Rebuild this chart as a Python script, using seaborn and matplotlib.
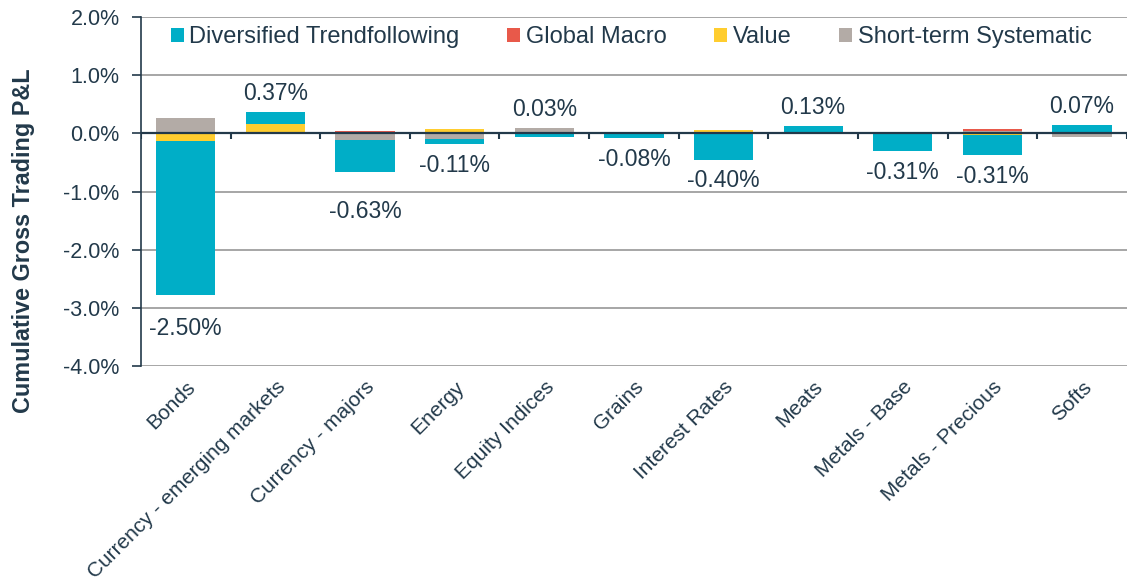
import numpy as np
import pandas as pd
import seaborn as sns
import matplotlib.pyplot as plt
from matplotlib.patches import Patch

# values, in % P&L
categories = ["Bonds", "Currency - emerging markets", "Currency - majors", "Energy",
              "Equity Indices", "Grains", "Interest Rates", "Meats",
              "Metals - Base", "Metals - Precious", "Softs"]
trend = [-2.63, 0.21, -0.55, -0.10, -0.05, -0.08, -0.45, 0.13, -0.31, -0.35, 0.14]
macro = [0.01, 0.00, 0.04, 0.00, 0.00, 0.00, 0.00, 0.00, 0.00, 0.03, 0.00]
value = [-0.14, 0.16, 0.00, 0.08, -0.01, 0.00, 0.05, 0.00, 0.00, -0.03, 0.00]
short = [0.26, 0.00, -0.12, -0.09, 0.09, 0.00, 0.00, 0.00, 0.00, 0.04, -0.07]
series_names = ["Diversified Trendfollowing", "Global Macro", "Value", "Short-term Systematic"]
yticks = [-4, -3, -2, -1, 0, 1, 2]

TEXT = "#22394A"
colors = {"Diversified Trendfollowing": "#00AEC7", "Global Macro": "#E8594A",
          "Value": "#FFCD2F", "Short-term Systematic": "#B3ABA6"}

df = pd.DataFrame({"category": categories,
                   "Diversified Trendfollowing": trend, "Global Macro": macro,
                   "Value": value, "Short-term Systematic": short})

sns.set_theme(style="white")
plt.rcParams["font.family"] = ["Liberation Sans", "DejaVu Sans"]

fig, ax = plt.subplots(figsize=(11.28, 5.84), dpi=100)
fig.subplots_adjust(left=0.125, right=0.999, bottom=0.373, top=0.971)

# stacking order from the zero line outwards
stack = ["Short-term Systematic", "Value", "Global Macro", "Diversified Trendfollowing"]
vals = df[stack].to_numpy()
pos_cum = np.cumsum(np.clip(vals, 0, None), axis=1)
neg_cum = np.cumsum(np.clip(vals, None, 0), axis=1)

# draw outermost cumulative first, then overdraw the inner layers
for i in range(len(stack) - 1, -1, -1):
    for cum in (pos_cum, neg_cum):
        sns.barplot(x=df["category"], y=cum[:, i], color=colors[stack[i]],
                    width=0.66, saturation=1, linewidth=0, ax=ax, zorder=2)

# total labels (a couple were nudged further down in the original)
label_nudge = {"Bonds": -9, "Currency - majors": -13}
totals = df[series_names].sum(axis=1).round(2)
for i, t in enumerate(totals):
    if t >= 0:
        ax.annotate(f"{t:.2f}%", (i, pos_cum[i, -1]), xytext=(0, 5),
                    textcoords="offset points", ha="center", va="bottom",
                    fontsize=16.5, color=TEXT)
    else:
        dy = -7 + label_nudge.get(categories[i], 0)
        ax.annotate(f"{t:.2f}%", (i, neg_cum[i, -1]), xytext=(0, dy),
                    textcoords="offset points", ha="center", va="top",
                    fontsize=16.5, color=TEXT)

ax.set_xlim(-0.5, len(categories) - 0.5)
ax.set_ylim(-4, 2)
ax.set_yticks(yticks)
ax.set_yticklabels([f"{v:.1f}%" for v in yticks], fontsize=15.5, color=TEXT)
ax.yaxis.grid(True, color="#A6A6A6", linewidth=1.4, zorder=0)
ax.set_axisbelow(True)

ax.axhline(0, color=TEXT, linewidth=1.6, zorder=5)
ax.vlines(np.arange(-0.5, len(categories), 1), -0.1, 0, color=TEXT, linewidth=1.5, zorder=5)

ax.set_xticks(range(len(categories)))
ax.set_xticklabels(categories, rotation=45, ha="right", rotation_mode="anchor",
                   fontsize=15, color=TEXT)
ax.tick_params(axis="x", length=0, pad=8)
ax.tick_params(axis="y", length=6.4, width=1.2, color=TEXT, direction="out", left=True, pad=9)
ax.set_xlabel("")
ax.set_ylabel("Cumulative Gross Trading P&L", fontsize=16.8, fontweight="bold", color=TEXT)
ax.yaxis.set_label_coords(-0.108, 0.36)

for side in ["top", "right", "bottom"]:
    ax.spines[side].set_visible(False)
ax.spines["left"].set_color(TEXT)
ax.spines["left"].set_linewidth(1.2)

handles = [Patch(facecolor=colors[n], edgecolor="none") for n in series_names]
ax.legend(handles, series_names, loc="center", bbox_to_anchor=(0.497, 0.942),
          ncol=4, frameon=False, fontsize=17, handlelength=0.55, handleheight=0.55,
          handletextpad=0.25, columnspacing=2.0, labelcolor=TEXT)

fig.savefig("out.png", dpi=100)
